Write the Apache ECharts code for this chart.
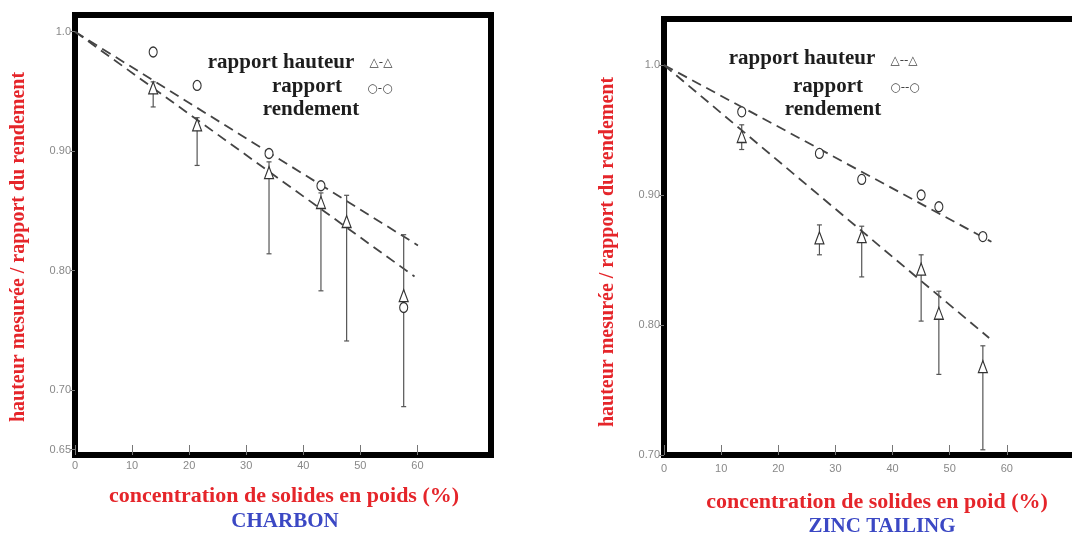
<!DOCTYPE html>
<html>
<head>
<meta charset="utf-8">
<script src="https://cdn.jsdelivr.net/npm/echarts@6/dist/echarts.min.js"></script>
<style>
  html, body { margin: 0; padding: 0; background: #fff; }
  #chart { width: 1072px; height: 536px; }
</style>
</head>
<body>
<div id="chart"></div>
<script>
// --- CHARBON (left panel) ---
const charbonConcH = [13.7, 21.4, 34.0, 43.1, 47.6, 57.6];
const charbonHauteur = [0.953, 0.922, 0.882, 0.857, 0.841, 0.779];
const charbonHauteurHigh = [0.958, 0.928, 0.891, 0.865, 0.863, 0.830];
const charbonHauteurLow = [0.937, 0.888, 0.814, 0.783, 0.741, 0.686];
const charbonConcR = [13.7, 21.4, 34.0, 43.1, 57.6];
const charbonRendement = [0.983, 0.955, 0.898, 0.871, 0.769];
const charbonFitH = [[0, 1.0], [59.5, 0.795]];
const charbonFitR = [[0, 1.0], [60.1, 0.821]];

// --- ZINC TAILING (right panel) ---
const zincConc = [13.6, 27.2, 34.6, 45.0, 48.1, 55.8];
const zincHauteur = [0.945, 0.867, 0.868, 0.843, 0.809, 0.768];
const zincHauteurHigh = [0.954, 0.877, 0.876, 0.854, 0.826, 0.784];
const zincHauteurLow = [0.935, 0.854, 0.837, 0.803, 0.762, 0.704];
const zincRendement = [0.964, 0.932, 0.912, 0.900, 0.891, 0.868];
const zincFitH = [[0, 1.0], [56.9, 0.790]];
const zincFitR = [[0, 1.0], [57.3, 0.864]];

// tick labels
const xTicks = [0, 10, 20, 30, 40, 50, 60];
const charbonYTicks = [0.65, 0.70, 0.80, 0.90, 1.0];
const zincYTicks = [0.70, 0.80, 0.90, 1.0];

const RED = '#e5252a';
const BLUE = '#3b48c4';
const SERIF = '"Liberation Serif", "DejaVu Serif", serif';
const TICKFONT = '"Liberation Sans Narrow", "Liberation Sans", sans-serif';
const FRAME = { color: '#000', width: 6, cap: 'square' };

const zip = (...arrs) => arrs[0].map((_, i) => arrs.map(a => a[i]));

function xAxisFor(gridIndex, max, frame) {
  return {
    type: 'value', gridIndex, min: 0, max,
    axisLine: { show: !!frame, onZero: false, lineStyle: FRAME },
    axisTick: { show: true, inside: true, length: 10, customValues: xTicks,
      lineStyle: { color: '#777', width: 1 } },
    axisLabel: { customValues: xTicks, color: '#888', fontFamily: TICKFONT,
      fontSize: 11, margin: gridIndex === 0 ? 5 : 8 },
    splitLine: { show: false }
  };
}

function yAxisFor(gridIndex, min, max, ticks, frame) {
  return {
    type: 'value', gridIndex, min, max,
    axisLine: { show: !!frame, onZero: false, lineStyle: FRAME },
    axisTick: { show: true, inside: false, length: 5, customValues: ticks,
      lineStyle: { color: '#777', width: 1 } },
    axisLabel: { customValues: ticks, color: '#888', fontFamily: TICKFONT,
      fontSize: 11, margin: 4,
      formatter: v => (Math.abs(v - 1) < 1e-9 ? '1.0' : v.toFixed(2)) },
    splitLine: { show: false }
  };
}

function errorBars(idx, data) {
  return {
    type: 'custom', xAxisIndex: idx, yAxisIndex: idx, z: 3,
    data,
    encode: { x: 0, y: [1, 2] },
    renderItem: (params, api) => {
      const top = api.coord([api.value(0), api.value(1)]);
      const bot = api.coord([api.value(0), api.value(2)]);
      const st = { stroke: '#555', lineWidth: 1.2 };
      return {
        type: 'group',
        children: [
          { type: 'line', shape: { x1: top[0], y1: top[1], x2: bot[0], y2: bot[1] }, style: st },
          { type: 'line', shape: { x1: top[0] - 2.5, y1: top[1], x2: top[0] + 2.5, y2: top[1] }, style: st },
          { type: 'line', shape: { x1: bot[0] - 2.5, y1: bot[1], x2: bot[0] + 2.5, y2: bot[1] }, style: st }
        ]
      };
    }
  };
}

function fitLine(idx, data) {
  return {
    type: 'line', xAxisIndex: idx, yAxisIndex: idx, data, showSymbol: false,
    silent: true, z: 2,
    lineStyle: { color: '#444', width: 1.8, type: [10, 6] }
  };
}

function markers(idx, data, symbol, size) {
  return {
    type: 'scatter', xAxisIndex: idx, yAxisIndex: idx, data, symbol, symbolSize: size,
    z: 4,
    itemStyle: { color: '#fff', borderColor: '#333', borderWidth: 1.2, opacity: 1 }
  };
}

function txt(x, y, text, size, color, opts = {}) {
  return {
    type: 'text', x, y, rotation: opts.rotation || 0,
    scaleX: opts.scaleX || 1,
    style: {
      text, fill: color, fontFamily: opts.family || SERIF,
      fontWeight: opts.weight || 'bold', fontSize: size,
      textAlign: 'center', textVerticalAlign: 'middle'
    }
  };
}

const chart = echarts.init(document.getElementById('chart'), null, { renderer: 'canvas' });

const option = {
  animation: false,
  backgroundColor: '#fff',
  grid: [
    { left: 75, top: 15, width: 416, height: 440, show: true,
      borderColor: '#000', borderWidth: 6, backgroundColor: 'transparent' },
    // right frame runs off the page: drawn with axis lines instead of a border
    { left: 664, top: 19, right: 0, height: 436, show: false }
  ],
  xAxis: [
    xAxisFor(0, 72.9, false),
    xAxisFor(1, 71.4, true),
    { type: 'value', gridIndex: 1, position: 'top', min: 0, max: 71.4,
      axisLine: { show: true, onZero: false, lineStyle: FRAME },
      axisTick: { show: false }, axisLabel: { show: false }, splitLine: { show: false } }
  ],
  yAxis: [
    yAxisFor(0, 0.6455, 1.014, charbonYTicks, false),
    yAxisFor(1, 0.70, 1.0354, zincYTicks, true)
  ],
  series: [
    fitLine(0, charbonFitR),
    fitLine(0, charbonFitH),
    errorBars(0, zip(charbonConcH, charbonHauteurHigh, charbonHauteurLow)),
    markers(0, zip(charbonConcH, charbonHauteur), 'triangle', [9, 12]),
    markers(0, zip(charbonConcR, charbonRendement), 'circle', [8, 10]),

    fitLine(1, zincFitR),
    fitLine(1, zincFitH),
    errorBars(1, zip(zincConc, zincHauteurHigh, zincHauteurLow)),
    markers(1, zip(zincConc, zincHauteur), 'triangle', [9, 12]),
    markers(1, zip(zincConc, zincRendement), 'circle', [8, 10])
  ],
  graphic: [
    // left panel texts
    txt(19, 247, 'hauteur mesurée / rapport du rendement', 20, RED, { rotation: Math.PI / 2 }),
    txt(284, 497, 'concentration de solides en poids (%)', 20, RED, { scaleX: 1.1 }),
    txt(285, 522, 'CHARBON', 20, BLUE, { scaleX: 1.05 }),
    txt(281, 63, 'rapport hauteur', 20, '#1e1e1e', { scaleX: 1.05 }),
    txt(307, 87, 'rapport', 20, '#1e1e1e', { scaleX: 1.05 }),
    txt(311, 110, 'rendement', 20, '#1e1e1e', { scaleX: 1.05 }),
    txt(381, 63, '△-△', 12, '#444', { weight: 'normal', family: '"DejaVu Sans", sans-serif' }),
    txt(380, 89, '○-○', 12, '#444', { weight: 'normal', family: '"DejaVu Sans", sans-serif' }),

    // right panel texts
    txt(608, 252, 'hauteur mesurée / rapport du rendement', 20, RED, { rotation: Math.PI / 2 }),
    txt(877, 503, 'concentration de solides en poid (%)', 20, RED, { scaleX: 1.1 }),
    txt(882, 527, 'ZINC TAILING', 20, BLUE, { scaleX: 1.05 }),
    txt(802, 59, 'rapport hauteur', 20, '#1e1e1e', { scaleX: 1.05 }),
    txt(828, 87, 'rapport', 20, '#1e1e1e', { scaleX: 1.05 }),
    txt(833, 110, 'rendement', 20, '#1e1e1e', { scaleX: 1.05 }),
    txt(904, 61, '△--△', 12, '#444', { weight: 'normal', family: '"DejaVu Sans", sans-serif' }),
    txt(905, 88, '○--○', 12, '#444', { weight: 'normal', family: '"DejaVu Sans", sans-serif' })
  ]
};

chart.setOption(option);
window.addEventListener('resize', () => chart.resize());
</script>
</body>
</html>
